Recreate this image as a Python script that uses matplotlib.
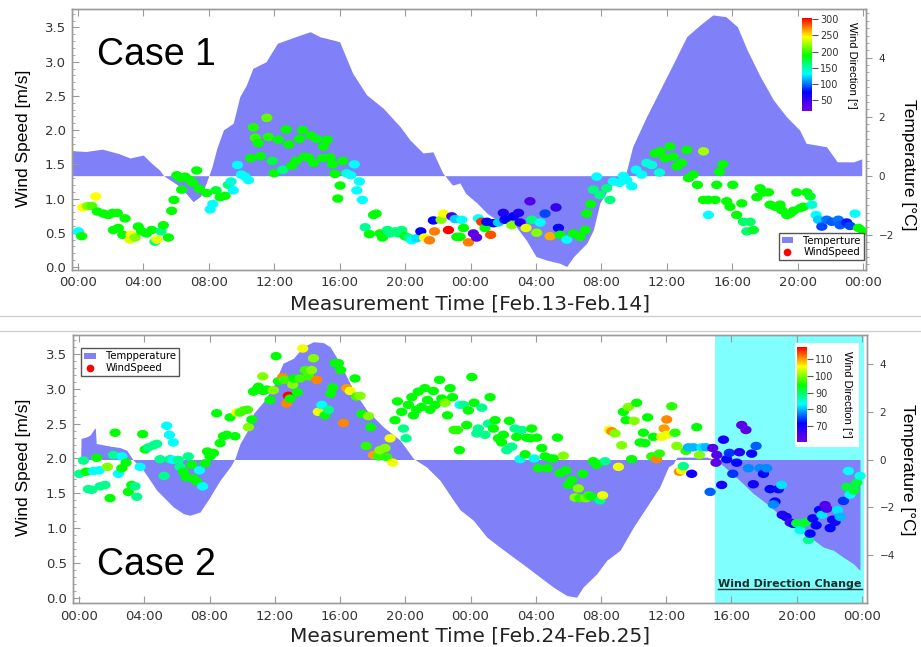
import numpy as np
import matplotlib
matplotlib.use("Agg")
import matplotlib.pyplot as plt
from matplotlib.colors import LinearSegmentedColormap
from matplotlib.path import Path
from matplotlib.patches import Patch
from matplotlib.lines import Line2D
from matplotlib.ticker import MultipleLocator

# ---------------- данные: Case 1 (Feb.13-Feb.14) ----------------
temp1_h = [-0.4, 0.5, 1.5, 2.5, 3.2, 4.0, 4.5, 5.0, 5.25, 6.25,
           7.05, 7.5, 7.85, 8.2, 8.5, 8.9, 9.5, 9.9, 10.3, 10.7,
           11.5, 12.2, 13.2, 14.2, 14.8, 15.6, 16.0, 16.8, 17.65, 18.66,
           19.7, 20.3, 21.1, 21.7, 22.3, 22.9, 23.35, 23.7, 24.4, 25.0,
           25.6, 26.6, 27.4, 28.0, 28.65, 29.46, 29.87, 30.3, 31.1, 31.5,
           31.9, 32.5, 33.1, 33.5, 33.9, 34.75, 35.57, 36.4, 37.2, 38.0,
           38.8, 39.6, 40.3, 40.9, 41.7, 42.5, 43.3, 44.1, 44.5, 45.75,
           46.4, 47.4, 47.9]
temp1_c = [0.85, 0.82, 0.9, 0.75, 0.6, 0.7, 0.43, 0.19, 0.0, -0.37,
           -0.88, -0.7, -0.25, 0.3, 0.93, 1.55, 1.78, 2.68, 3.07, 3.64,
           3.86, 4.49, 4.69, 4.88, 4.71, 4.6, 4.54, 3.47, 2.74, 2.29,
           1.66, 1.21, 0.77, 0.81, 0.09, -0.32, -0.25, -0.6, -0.93, -1.27,
           -1.5, -1.6, -2.18, -2.74, -2.86, -2.97, -3.08, -2.74, -2.29, -1.84,
           -0.93, -0.37, -0.15, 0.1, 0.98, 2.0, 2.9, 3.81, 4.71, 5.1,
           5.45, 5.39, 5.05, 4.26, 3.36, 2.57, 2.0, 1.55, 1.1, 0.98,
           0.47, 0.47, 0.57]

wind1_t = [0.04, 0.24, 0.31, 0.59, 0.86, 1.10, 1.20, 1.57, 1.87, 2.14,
           2.42, 2.89, 2.18, 2.48, 2.75, 3.26, 3.20, 3.50, 3.70, 3.90,
           4.20, 4.52, 4.72, 4.83, 5.09, 5.23, 5.54, 5.74, 5.88, 6.05,
           6.35, 6.25, 6.56, 6.86, 7.03, 7.27, 7.43, 7.88, 8.09, 8.25,
           8.45, 8.70, 9.00, 9.20, 9.50, 9.37, 9.76, 10.00, 10.43, 10.22,
           10.57, 10.73, 10.84, 11.04, 11.18, 11.55, 11.65, 11.89, 12.00, 12.26,
           12.53, 12.73, 12.89, 13.07, 13.34, 13.54, 13.73, 13.85, 14.09, 14.24,
           14.40, 14.60, 14.95, 15.01, 15.25, 15.42, 15.56, 15.72, 15.89, 16.03,
           16.19, 16.44, 16.68, 16.90, 17.05, 17.21, 17.39, 17.56, 17.82, 18.07,
           18.23, 18.47, 18.62, 18.92, 19.08, 19.39, 19.59, 19.80, 20.00, 20.20,
           20.41, 20.71, 20.96, 21.18, 21.49, 21.73, 21.80, 22.20, 22.35, 22.65,
           22.85, 23.16, 23.06, 23.46, 23.57, 23.36, 23.87, 24.17, 24.37, 24.48,
           24.68, 24.88, 24.99, 25.23, 25.40, 25.70, 26.00, 26.10, 26.52, 26.62,
           26.93, 27.03, 27.39, 27.63, 27.74, 28.04, 28.25, 28.55, 28.86, 29.22,
           29.37, 29.47, 29.88, 30.28, 30.69, 31.00, 31.10, 31.34, 31.50, 31.71,
           31.91, 32.32, 32.52, 32.72, 33.09, 33.33, 33.54, 33.85, 34.11, 34.46,
           34.77, 35.07, 35.28, 35.54, 35.58, 35.88, 36.19, 36.39, 36.60, 36.90,
           37.21, 37.31, 37.61, 37.86, 38.23, 38.23, 38.53, 38.53, 38.94, 39.04,
           39.20, 39.41, 39.65, 39.85, 40.02, 40.26, 40.57, 40.67, 40.88, 41.08,
           41.28, 41.49, 41.69, 41.90, 42.20, 42.30, 42.61, 42.91, 43.01, 43.32,
           43.52, 43.73, 43.93, 44.14, 44.34, 44.54, 44.75, 44.85, 45.11, 45.26,
           45.46, 45.76, 46.07, 46.47, 46.58, 46.98, 47.19, 47.49, 47.70, 48.00]
wind1_s = [0.52, 0.45, 0.87, 0.89, 0.89, 1.03, 0.81, 0.78, 0.76, 0.79,
           0.79, 0.71, 0.54, 0.57, 0.47, 0.47, 0.40, 0.43, 0.59, 0.52,
           0.49, 0.54, 0.37, 0.40, 0.52, 0.61, 0.43, 0.82, 0.98, 1.34,
           1.13, 1.30, 1.32, 1.27, 1.23, 1.41, 1.14, 1.08, 0.84, 0.92,
           1.12, 1.02, 1.04, 1.20, 1.12, 1.25, 1.49, 1.35, 1.27, 1.32,
           1.59, 2.04, 1.89, 1.81, 1.62, 2.18, 1.90, 1.55, 1.37, 1.86,
           1.42, 2.01, 1.79, 1.48, 1.55, 1.87, 2.00, 1.61, 1.60, 1.92,
           1.52, 1.87, 1.59, 1.76, 1.86, 1.60, 1.50, 1.36, 1.00, 1.19,
           1.55, 1.37, 1.34, 1.50, 1.12, 1.25, 0.98, 0.58, 0.48, 0.76,
           0.78, 0.49, 0.43, 0.54, 0.49, 0.52, 0.49, 0.54, 0.45, 0.43,
           0.39, 0.42, 0.52, 0.43, 0.39, 0.68, 0.52, 0.69, 0.78, 0.54,
           0.74, 0.44, 0.70, 0.69, 0.57, 0.44, 0.36, 0.49, 0.43, 0.71,
           0.66, 0.57, 0.66, 0.47, 0.64, 0.65, 0.79, 0.69, 0.61, 0.74,
           0.79, 0.65, 0.57, 0.96, 0.69, 0.50, 0.65, 0.78, 0.45, 0.87,
           0.57, 0.47, 0.40, 0.49, 0.44, 0.54, 0.78, 0.92, 1.13, 1.32,
           1.05, 1.15, 0.98, 1.25, 1.23, 1.33, 1.27, 1.18, 1.42, 1.35,
           1.52, 1.49, 1.66, 1.38, 1.69, 1.59, 1.76, 1.61, 1.47, 1.52,
           1.71, 1.30, 1.35, 1.20, 1.69, 0.98, 0.98, 0.76, 0.98, 1.20,
           1.39, 1.50, 0.96, 0.88, 1.20, 0.76, 0.93, 0.66, 0.52, 0.66,
           0.54, 1.02, 1.15, 1.09, 1.09, 0.91, 0.88, 0.91, 0.83, 0.76,
           0.78, 0.82, 1.09, 0.86, 0.88, 1.09, 1.03, 0.91, 0.76, 0.69,
           0.59, 0.69, 0.66, 0.69, 0.61, 0.65, 0.60, 0.78, 0.57, 0.52]
wind1_d = [131, 189, 246, 217, 205, 246, 189, 189, 189, 189,
           189, 189, 189, 189, 189, 246, 240, 217, 189, 189,
           189, 189, 160, 240, 160, 189, 189, 189, 189, 189,
           189, 189, 189, 189, 189, 189, 189, 189, 131, 131,
           180, 189, 189, 160, 131, 140, 131, 131, 131, 131,
           189, 195, 200, 189, 189, 210, 195, 175, 189, 185,
           160, 189, 189, 189, 189, 189, 189, 189, 189, 189,
           189, 185, 189, 189, 189, 189, 189, 189, 189, 189,
           189, 140, 131, 131, 131, 131, 131, 155, 189, 189,
           189, 189, 189, 160, 160, 160, 160, 160, 189, 160,
           131, 125, 74, 246, 274, 74, 274, 217, 246, 303,
           40, 189, 120, 131, 189, 189, 274, 30, 30, 131,
           290, 189, 74, 285, 74, 120, 60, 74, 217, 74,
           60, 60, 240, 35, 160, 217, 131, 90, 265, 50,
           70, 189, 131, 189, 189, 189, 189, 189, 160, 131,
           160, 160, 160, 131, 131, 131, 131, 131, 131, 131,
           140, 140, 189, 140, 189, 189, 189, 189, 189, 189,
           189, 189, 189, 189, 225, 189, 189, 131, 189, 189,
           189, 189, 189, 189, 189, 189, 189, 165, 165, 165,
           180, 189, 189, 189, 189, 189, 189, 189, 189, 189,
           189, 189, 189, 189, 189, 189, 180, 140, 131, 120,
           90, 100, 95, 100, 95, 80, 90, 131, 189, 189]

# ---------------- данные: Case 2 (Feb.24-Feb.25) ----------------
temp2_h = [0.1, 0.12, 0.47, 0.67, 0.95, 1.0, 1.05, 1.29, 1.9, 2.5,
           2.92, 3.33, 3.94, 4.76, 5.78, 6.4, 6.8, 7.42, 8.03, 8.64,
           9.26, 9.56, 9.87, 10.28, 10.69, 11.3, 11.9, 12.5, 13.14, 13.75,
           14.37, 14.98, 15.39, 16.0, 16.82, 17.64, 18.66, 19.68, 20.5, 21.3,
           22.13, 22.95, 23.36, 24.18, 25.0, 25.8, 26.63, 27.45, 28.26, 29.08,
           29.9, 30.5, 30.9, 31.74, 32.35, 33.17, 33.99, 34.8, 35.6, 36.13,
           36.44, 36.65, 37.5, 38.5, 39.1, 39.7, 40.5, 41.34, 42.16, 42.98,
           43.8, 44.8, 45.64, 46.25, 46.86, 47.47, 47.88]
temp2_c = [0.0, 0.88, 0.95, 1.02, 1.3, 1.3, 0.67, 0.64, 0.56, 0.5,
           0.39, -0.03, -0.45, -1.28, -1.98, -2.26, -2.33, -2.19, -1.56, -0.87,
           -0.31, 0.04, 0.67, 1.15, 1.92, 2.41, 3.04, 4.02, 4.23, 4.71,
           4.92, 4.88, 4.71, 4.02, 2.9, 2.06, 1.36, 0.81, 0.04, -0.31,
           -0.87, -1.7, -2.1, -2.54, -3.24, -3.66, -4.08, -4.49, -4.91, -5.33,
           -5.68, -5.75, -5.33, -4.77, -4.21, -3.79, -2.82, -1.98, -1.15, -0.31,
           -0.17, 0.1, 0.1, 0.1, -0.03, -0.38, -0.87, -1.42, -1.84, -2.33,
           -2.75, -3.24, -3.66, -3.79, -4.08, -4.35, -4.63]

wind2_t = [0.02, 0.27, 0.43, 0.57, 0.88, 1.08, 1.23, 0.78, 1.29, 1.59,
           1.74, 1.90, 2.21, 2.10, 2.41, 2.62, 2.62, 2.88, 3.02, 3.23,
           3.43, 3.54, 3.74, 3.90, 4.05, 4.25, 4.56, 4.76, 4.97, 5.21,
           5.37, 5.54, 5.78, 5.58, 5.78, 6.09, 6.19, 6.40, 6.56, 6.70,
           6.91, 7.01, 7.21, 7.38, 7.58, 7.73, 7.87, 8.03, 8.24, 8.44,
           8.65, 8.85, 9.05, 9.26, 9.56, 9.67, 9.87, 10.08, 10.32, 10.38,
           10.59, 10.69, 10.89, 11.00, 11.26, 11.30, 11.51, 11.71, 11.91, 12.08,
           12.22, 12.49, 12.57, 12.73, 12.83, 12.94, 13.10, 13.18, 13.39, 13.55,
           13.71, 13.86, 14.06, 14.26, 14.37, 14.57, 14.67, 14.88, 15.08, 15.29,
           15.43, 15.55, 15.70, 15.90, 16.04, 16.21, 16.41, 16.62, 16.92, 17.02,
           17.23, 17.33, 17.60, 17.74, 17.88, 18.05, 18.35, 18.45, 18.76, 18.86,
           19.07, 19.23, 19.37, 19.52, 19.78, 19.89, 20.05, 20.19, 20.40, 20.50,
           20.70, 20.80, 21.00, 21.20, 21.36, 21.52, 21.72, 21.83, 22.10, 22.24,
           22.44, 22.59, 22.75, 22.90, 22.99, 23.20, 23.32, 23.36, 23.56, 23.77,
           23.87, 24.08, 24.22, 24.38, 24.48, 24.69, 24.89, 25.10, 25.20, 25.40,
           25.51, 25.71, 25.91, 26.02, 26.22, 26.38, 26.53, 26.73, 26.83, 27.04,
           27.14, 27.35, 27.45, 27.65, 27.75, 27.90, 28.06, 28.16, 28.37, 28.57,
           28.71, 28.88, 29.08, 29.33, 29.49, 29.69, 29.85, 30.00, 30.21, 30.41,
           30.61, 30.71, 30.88, 31.08, 31.23, 31.43, 31.53, 31.74, 31.94, 32.10,
           32.25, 32.51, 32.66, 32.86, 33.07, 33.27, 33.37, 33.54, 33.68, 33.88,
           34.03, 34.19, 34.40, 34.60, 34.70, 34.86, 35.11, 35.21, 35.41, 35.58,
           35.72, 35.87, 36.03, 36.03, 36.34, 36.54, 36.65, 36.81, 36.95, 37.05,
           37.21, 37.36, 37.56, 37.67, 37.87, 38.04, 38.18, 38.44, 38.69, 38.85,
           39.10, 39.05, 39.40, 39.51, 39.71, 39.87, 40.08, 40.32, 40.49, 40.63,
           40.89, 41.04, 41.24, 41.34, 41.51, 41.75, 41.96, 42.16, 42.37, 42.67,
           42.57, 42.88, 43.07, 43.11, 43.35, 43.60, 43.80, 44.00, 44.20, 44.41,
           44.61, 44.72, 44.82, 44.99, 45.19, 45.40, 45.54, 45.74, 45.84, 46.05,
           46.20, 46.35, 46.50, 46.66, 46.86, 47.07, 47.17, 47.27, 47.51, 47.68,
           47.88]
wind2_s = [1.78, 1.97, 1.81, 1.56, 1.82, 2.01, 1.83, 1.55, 1.60, 1.62,
           1.88, 1.43, 2.37, 2.05, 1.78, 2.03, 1.86, 1.94, 1.52, 1.62,
           1.60, 1.45, 1.88, 2.35, 2.13, 2.16, 2.19, 2.21, 1.99, 1.75,
           2.47, 2.34, 2.23, 1.99, 1.98, 1.98, 1.88, 1.81, 1.73, 2.03,
           1.91, 1.71, 1.67, 1.83, 1.60, 1.93, 2.10, 2.03, 2.08, 2.65,
           2.22, 2.32, 2.34, 2.59, 2.32, 2.66, 2.66, 2.69, 2.70, 2.45,
           2.56, 2.96, 2.99, 3.03, 3.18, 2.97, 2.99, 2.84, 2.98, 3.47,
           3.11, 3.17, 3.13, 2.79, 2.90, 2.86, 3.06, 3.15, 2.95, 3.15,
           3.58, 3.27, 3.18, 3.27, 3.44, 3.13, 2.67, 2.77, 2.62, 2.70,
           2.93, 3.02, 3.37, 3.37, 3.27, 2.51, 3.01, 2.97, 3.15, 2.89,
           2.90, 2.64, 2.18, 2.61, 2.45, 2.05, 2.03, 2.12, 2.15, 2.02,
           2.29, 1.94, 2.55, 2.82, 2.67, 2.43, 2.29, 2.77, 2.88, 2.62,
           2.70, 2.96, 2.74, 3.01, 2.84, 2.70, 2.97, 2.77, 3.13, 2.86,
           2.80, 2.62, 3.01, 2.88, 2.41, 2.41, 2.12, 2.77, 2.77, 2.48,
           2.69, 3.17, 2.80, 2.36, 2.43, 2.73, 2.34, 2.50, 2.88, 2.43,
           2.55, 2.29, 2.23, 2.34, 2.12, 2.54, 2.17, 2.43, 2.31, 1.99,
           2.41, 2.06, 2.30, 2.29, 2.43, 2.00, 2.30, 1.86, 2.15, 2.03,
           1.86, 2.00, 2.00, 2.30, 1.79, 2.04, 1.83, 1.62, 1.69, 1.44,
           1.57, 1.43, 1.78, 1.43, 1.47, 1.45, 1.96, 1.91, 1.40, 1.47,
           1.96, 2.41, 2.39, 2.36, 1.88, 2.19, 2.67, 2.55, 2.74, 1.99,
           2.54, 2.80, 2.23, 2.37, 2.22, 2.59, 2.03, 2.31, 1.99, 2.07,
           2.31, 2.43, 2.56, 2.34, 2.75, 2.37, 2.18, 1.81, 1.83, 1.89,
           2.11, 2.16, 1.78, 2.16, 2.45, 2.05, 2.16, 2.16, 1.52, 2.15,
           2.05, 1.94, 1.62, 2.27, 1.99, 2.08, 1.78, 1.94, 2.09, 2.48,
           2.41, 1.86, 2.07, 1.63, 2.18, 1.86, 1.78, 1.86, 1.56, 1.38,
           1.34, 1.56, 1.62, 1.19, 1.16, 1.08, 1.06, 1.07, 0.97, 1.07,
           1.09, 0.83, 0.92, 1.14, 1.04, 1.26, 1.19, 1.33, 1.28, 1.00,
           1.12, 1.09, 1.26, 1.16, 1.39, 1.59, 1.82, 1.48, 1.54, 1.65,
           1.75]
wind2_d = [88, 88, 94, 88, 83, 94, 83, 88, 88, 88,
           100, 94, 94, 88, 83, 83, 94, 94, 94, 94,
           88, 88, 83, 94, 94, 88, 88, 88, 88, 88,
           83, 83, 83, 88, 83, 88, 88, 94, 94, 88,
           94, 94, 94, 83, 83, 94, 94, 94, 94, 94,
           94, 94, 94, 94, 94, 105, 97, 97, 97, 100,
           94, 94, 94, 94, 100, 94, 94, 94, 100, 94,
           94, 111, 97, 111, 117, 94, 100, 94, 94, 97,
           105, 97, 97, 100, 100, 111, 105, 83, 94, 88,
           94, 94, 94, 94, 94, 111, 110, 105, 94, 97,
           100, 94, 96, 100, 94, 110, 96, 100, 100, 96,
           105, 105, 94, 94, 94, 88, 88, 94, 94, 94,
           94, 94, 94, 94, 94, 94, 94, 94, 94, 94,
           100, 94, 94, 94, 96, 96, 94, 83, 88, 94,
           94, 94, 94, 88, 88, 88, 88, 88, 94, 94,
           94, 94, 94, 94, 88, 94, 88, 88, 94, 84,
           88, 94, 94, 94, 94, 84, 94, 94, 94, 94,
           94, 94, 94, 94, 94, 100, 94, 94, 94, 100,
           100, 96, 94, 100, 96, 94, 94, 94, 88, 105,
           88, 105, 111, 100, 105, 100, 94, 94, 100, 94,
           100, 94, 94, 94, 94, 94, 96, 94, 111, 96,
           105, 110, 111, 105, 96, 96, 100, 111, 105, 88,
           96, 80, 70, 80, 94, 100, 82, 80, 76, 63,
           64, 63, 70, 70, 72, 74, 74, 72, 68, 63,
           63, 78, 72, 70, 76, 78, 72, 78, 72, 72,
           78, 72, 82, 68, 70, 64, 70, 92, 84, 92,
           92, 88, 72, 70, 72, 72, 82, 64, 64, 72,
           70, 70, 82, 80, 74, 92, 83, 83, 92, 92,
           84]

hour_ticks = list(range(0, 49, 4))
hour_labels = [f"{h % 24:02d}:00" for h in hour_ticks]

# ---------------- оформление ----------------
FILL = "#8080f8"
SPINE = "#9a9a9a"
TXT = "#333333"
cmap = LinearSegmentedColormap.from_list(
    "igor_rainbow", ["#7800e0", "#0000ff", "#00ffff", "#00ff00", "#ffff00", "#ff0000"])

# эллиптический маркер (точки в оригинале чуть сплюснуты)
theta = np.linspace(0, 2 * np.pi, 41)
ellipse = Path(np.column_stack([np.cos(theta), 0.75 * np.sin(theta)]))

fig = plt.figure(figsize=(9.21, 6.47), dpi=100)
W, H = 921, 647


def px_rect(x0, y0, x1, y1):
    # пиксели картинки -> доли фигуры
    return [x0 / W, 1 - y1 / H, (x1 - x0) / W, (y1 - y0) / H]


def draw_panel(rect, xlim, ylim, tlim, temp_h, temp_c, wt, wspd, wdir, dlim,
               case_label, right_minor, span=None):
    ax = fig.add_axes(rect)
    ax_t = ax.twinx()
    ax.set_zorder(ax_t.get_zorder() + 1)
    ax.patch.set_visible(False)

    if span is not None:
        ax_t.axvspan(span[0], span[1], color="#80ffff", lw=0, zorder=0)
    ax_t.fill_between(temp_h, 0, temp_c, color=FILL, lw=0, zorder=1)
    ax_t.set_ylim(*tlim)

    sc = ax.scatter(wt, wspd, c=wdir, cmap=cmap, vmin=dlim[0], vmax=dlim[1],
                    s=66, marker=ellipse, linewidths=0, zorder=3)
    ax.set_xlim(*xlim)
    ax.set_ylim(*ylim)

    ax.set_xticks(hour_ticks)
    ax.set_xticklabels(hour_labels)
    ax.yaxis.set_major_locator(MultipleLocator(0.5))
    ax.yaxis.set_minor_locator(MultipleLocator(0.1))
    ax.yaxis.set_major_formatter(matplotlib.ticker.FormatStrFormatter("%.1f"))
    ax.tick_params(axis="x", direction="in", top=True, length=5, width=0.8,
                   color=SPINE, labelcolor=TXT, labelsize=9.5, pad=5)
    ax.tick_params(axis="y", which="major", direction="in", length=5, width=0.8,
                   color=SPINE, labelcolor=TXT, labelsize=9.5, pad=4)
    ax.tick_params(axis="y", which="minor", direction="in", length=2.5,
                   width=0.6, color=SPINE)

    ax_t.yaxis.set_major_locator(MultipleLocator(2))
    if right_minor:
        ax_t.yaxis.set_minor_locator(MultipleLocator(0.25))
    ax_t.tick_params(axis="y", which="major", direction="out", length=4,
                     width=0.8, color=SPINE, labelcolor=TXT, labelsize=7.5, pad=5)
    ax_t.tick_params(axis="y", which="minor", direction="out", length=2,
                     width=0.6, color=SPINE)

    for a in (ax, ax_t):
        for sp in a.spines.values():
            sp.set_color(SPINE)
            sp.set_linewidth(1.0)

    ax.text(*case_label[1], case_label[0], transform=ax.transAxes,
            fontsize=27, family="Liberation Sans", va="baseline", ha="left")
    return ax, ax_t, sc


# ---------------- Case 1 ----------------
ax1, ax1t, sc1 = draw_panel(px_rect(71.5, 9, 866, 269.5), (-0.38, 48.16),
                            (-0.037, 3.77), (-3.18, 5.65),
                            temp1_h, temp1_c, wind1_t, wind1_s, wind1_d, (17, 303),
                            ("Case 1", (0.0317, 0.785)), True)
ax1.text(-0.061, 0.505, "Wind Speed [m/s]", transform=ax1.transAxes, rotation=90,
         ha="center", va="center", fontsize=12.5, family="Liberation Sans")
ax1.text(0.5016, -0.132, "Measurement Time [Feb.13-Feb.14]", transform=ax1.transAxes,
         ha="center", va="center", fontsize=14.5, color="#222222")
ax1.text(1.0529, 0.401, "Temperature [°C]", transform=ax1.transAxes, rotation=270,
         ha="center", va="center", fontsize=12.5, family="Liberation Sans")

leg_handles1 = [Patch(facecolor=FILL, edgecolor="none", label="Temperture"),
                Line2D([], [], marker="o", ls="", color="red", markersize=4.5,
                       label="WindSpeed")]
leg1 = ax1.legend(handles=leg_handles1, loc="lower right", bbox_to_anchor=(0.997, 0.036),
                  borderaxespad=0, fontsize=7.3, fancybox=False, framealpha=1,
                  edgecolor="#555555", handlelength=1.1, handleheight=0.6,
                  labelspacing=0.15, borderpad=0.3, handletextpad=1.0)
leg1.get_frame().set_linewidth(1.0)

cax1 = fig.add_axes(px_rect(801.5, 18.3, 811.5, 110.7))
cb1 = fig.colorbar(sc1, cax=cax1, ticks=[50, 100, 150, 200, 250, 300])
cb1.outline.set_visible(False)
cax1.tick_params(labelsize=7, length=4, width=0.8, color="#555555", labelcolor=TXT, pad=2)
cax1.text(5.0, 0.495, "Wind Direction [°]", transform=cax1.transAxes, rotation=270,
          ha="center", va="center", fontsize=8, family="Liberation Sans")

# ---------------- Case 2 ----------------
ax2, ax2t, sc2 = draw_panel(px_rect(72.7, 335, 867, 602.7), (-0.39, 48.31),
                            (-0.072, 3.774), (-5.98, 5.2),
                            temp2_h, temp2_c, wind2_t, wind2_s, wind2_d, (60.3, 117),
                            ("Case 2", (0.030, 0.1035)), False, span=(39.0, 48.1))
ax2.text(-0.062, 0.507, "Wind Speed [m/s]", transform=ax2.transAxes, rotation=90,
         ha="center", va="center", fontsize=12.5, family="Liberation Sans")
ax2.text(0.5002, -0.124, "Measurement Time [Feb.24-Feb.25]", transform=ax2.transAxes,
         ha="center", va="center", fontsize=14.5, color="#222222")
ax2.text(1.0516, 0.496, "Temperature [°C]", transform=ax2.transAxes, rotation=270,
         ha="center", va="center", fontsize=12.5, family="Liberation Sans")

leg_handles2 = [Patch(facecolor=FILL, edgecolor="none", label="Tempperature"),
                Line2D([], [], marker="o", ls="", color="red", markersize=4.5,
                       label="WindSpeed")]
leg2 = ax2.legend(handles=leg_handles2, loc="upper left", bbox_to_anchor=(0.011, 0.95),
                  borderaxespad=0, fontsize=7.3, fancybox=False, framealpha=1,
                  edgecolor="#555555", handlelength=1.1, handleheight=0.6,
                  labelspacing=0.15, borderpad=0.3, handletextpad=1.0)
leg2.get_frame().set_linewidth(1.0)

note = ax2.text(0.903, 0.0586, "Wind Direction Change", transform=ax2.transAxes,
                ha="center", va="baseline", fontsize=8, fontweight="bold",
                color="#1a2e2e", zorder=5)

bg2 = fig.add_axes(px_rect(795, 343, 859, 446.7))
bg2.set_xticks([])
bg2.set_yticks([])
for sp in bg2.spines.values():
    sp.set_visible(False)
bg2.set_zorder(5)

cax2 = fig.add_axes(px_rect(796.7, 347.3, 806.7, 442.3))
cax2.set_zorder(6)
cb2 = fig.colorbar(sc2, cax=cax2, ticks=[70, 80, 90, 100, 110])
cb2.outline.set_visible(False)
cax2.tick_params(labelsize=7, length=4, width=0.8, color="#555555", labelcolor=TXT, pad=2)
cax2.text(5.06, 0.51, "Wind Direction [°]", transform=cax2.transAxes, rotation=270,
          ha="center", va="center", fontsize=8, family="Liberation Sans")

# разделительные линии между панелями
for yy in (316, 330.7):
    fig.add_artist(Line2D([0, 1], [1 - yy / H, 1 - yy / H], transform=fig.transFigure,
                          color="#cfcfcf", lw=1))

# подчёркивание надписи
fig.canvas.draw()
bb = note.get_window_extent().transformed(fig.transFigure.inverted())
y_ul = 1 - 589.3 / H
fig.add_artist(Line2D([bb.x0, bb.x1], [y_ul, y_ul], transform=fig.transFigure,
                      color="#1a2e2e", lw=1))

fig.savefig("out.png", dpi=100)
